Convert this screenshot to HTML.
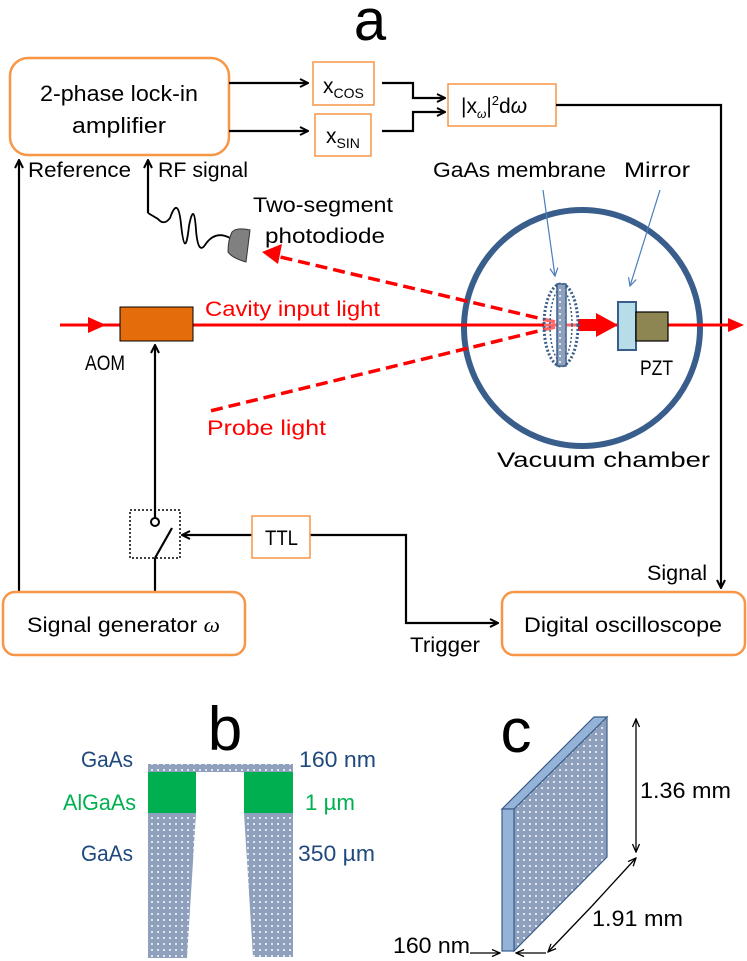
<!DOCTYPE html>
<html><head><meta charset="utf-8"><style>
html,body{margin:0;padding:0;background:#fff;}
svg{display:block;font-family:"Liberation Sans",sans-serif;}
</style></head><body>
<svg width="747" height="961" viewBox="0 0 747 961" xmlns="http://www.w3.org/2000/svg">
<defs>
<marker id="ab" markerWidth="10" markerHeight="10" refX="9" refY="5" orient="auto" markerUnits="userSpaceOnUse"><path d="M1,1 L9,5 L1,9" fill="none" stroke="#000" stroke-width="2"/></marker>
<marker id="at" markerWidth="10" markerHeight="10" refX="9" refY="5" orient="auto" markerUnits="userSpaceOnUse"><path d="M1,1.5 L9,5 L1,8.5" fill="none" stroke="#000" stroke-width="1.3"/></marker>
<marker id="abl" markerWidth="10" markerHeight="10" refX="9" refY="5" orient="auto" markerUnits="userSpaceOnUse"><path d="M1,1 L9,5 L1,9" fill="none" stroke="#4a7ebb" stroke-width="1.2"/></marker>
<pattern id="dots" width="6" height="6" patternUnits="userSpaceOnUse"><rect width="6" height="6" fill="#8ea0bb"/><rect x="1" y="1" width="2" height="2" fill="#dfe6f0"/></pattern>
</defs>

<text x="370" y="40" font-size="58" text-anchor="middle">a</text>

<!-- top boxes -->
<rect x="10" y="58" width="219" height="97" rx="18" fill="#fff" stroke="#f79646" stroke-width="2.5"/>
<g font-size="22" lengthAdjust="spacingAndGlyphs">
<text x="40" y="101" textLength="158" lengthAdjust="spacingAndGlyphs">2-phase lock-in</text>
<text x="72" y="133" textLength="94" lengthAdjust="spacingAndGlyphs">amplifier</text>
</g>
<rect x="313" y="62" width="61" height="43" fill="#fff" stroke="#f79646" stroke-width="1.5"/>
<text x="323" y="93" font-size="21">x<tspan font-size="14" dy="5">COS</tspan></text>
<rect x="315" y="114" width="56" height="42" fill="#fff" stroke="#f79646" stroke-width="1.5"/>
<text x="326" y="143" font-size="21">x<tspan font-size="14" dy="5">SIN</tspan></text>
<rect x="448" y="84" width="108" height="42" fill="#fff" stroke="#f79646" stroke-width="1.5"/>
<text x="461" y="113" font-size="21">|x<tspan font-size="12" dy="5" font-style="italic">ω</tspan><tspan dy="-5">|</tspan><tspan font-size="13" dy="-8">2</tspan><tspan dy="8">d</tspan><tspan font-style="italic">ω</tspan></text>

<g stroke="#000" stroke-width="2.2" fill="none">
<line x1="229" y1="83" x2="308" y2="83" marker-end="url(#ab)"/>
<line x1="229" y1="131" x2="308" y2="131" marker-end="url(#ab)"/>
<polyline points="382,83 413,83 413,98 445,98" marker-end="url(#ab)"/>
<polyline points="382,131 413,131 413,112 445,112" marker-end="url(#ab)"/>
<polyline points="556,105 721,105 721,588" marker-end="url(#ab)"/>
<line x1="19" y1="592" x2="19" y2="160" marker-end="url(#ab)"/>
<line x1="148" y1="213" x2="148" y2="160" marker-end="url(#ab)"/>
</g>
<path d="M148,213 L158,219 Q164,226 170,218 Q178,195 181,224 Q185,262 189,226 Q194,200 196,230 Q198,255 205,245 Q215,230 230,238" fill="none" stroke="#000" stroke-width="1.8"/>
<path d="M232,232 Q236,227 250,230 L246,262 Q232,258 228,252 Q228,240 232,232 Z" fill="#808080" stroke="#333" stroke-width="1"/>
<g font-size="21">
<text x="28" y="177" textLength="103" lengthAdjust="spacingAndGlyphs">Reference</text>
<text x="158" y="177" textLength="90" lengthAdjust="spacingAndGlyphs">RF signal</text>
<text x="253" y="212" textLength="140" lengthAdjust="spacingAndGlyphs">Two-segment</text>
<text x="265" y="243" textLength="120" lengthAdjust="spacingAndGlyphs">photodiode</text>
<text x="433" y="177" textLength="173" lengthAdjust="spacingAndGlyphs">GaAs membrane</text>
<text x="624" y="177" textLength="66" lengthAdjust="spacingAndGlyphs">Mirror</text>
</g>

<!-- chamber -->
<circle cx="582" cy="328" r="118" fill="none" stroke="#3a5e8c" stroke-width="6"/>
<text x="497" y="467" font-size="21" textLength="213" lengthAdjust="spacingAndGlyphs">Vacuum chamber</text>

<!-- beam -->
<line x1="60" y1="325" x2="735" y2="325" stroke="#ff0000" stroke-width="3"/>
<polygon points="88,317 106,325 88,333" fill="#ff0000"/>
<polygon points="728,318 744,325 728,332" fill="#ff0000"/>
<polygon points="578,319 596,319 596,313 618,325 596,337 596,331 578,331" fill="#ff0000"/>
<rect x="120" y="307" width="73" height="34" fill="#e46c0a" stroke="#000" stroke-width="1"/>
<text x="205" y="316" font-size="21" fill="#ff0000" textLength="175" lengthAdjust="spacingAndGlyphs">Cavity input light</text>
<text x="85" y="370" font-size="21" textLength="40" lengthAdjust="spacingAndGlyphs">AOM</text>
<line x1="555" y1="322" x2="272" y2="255" stroke="#ff0000" stroke-width="3.5" stroke-dasharray="12,6"/>
<polygon points="262,252 282,244 278,264" fill="#ff0000"/>
<line x1="555" y1="327" x2="210" y2="411" stroke="#ff0000" stroke-width="3.5" stroke-dasharray="12,6"/>
<text x="207" y="435" font-size="21" fill="#ff0000" textLength="119" lengthAdjust="spacingAndGlyphs">Probe  light</text>

<!-- membrane -->
<ellipse cx="561" cy="325" rx="17" ry="41" fill="#fff" fill-opacity="0.4" stroke="#3a5e8c" stroke-width="3" stroke-dasharray="2,2"/>
<ellipse cx="561" cy="325" rx="11" ry="36" fill="none" stroke="#3a5e8c" stroke-width="1.5" stroke-dasharray="2,2"/>
<rect x="557" y="284" width="9" height="82" fill="url(#dots)" stroke="#3a5e8c" stroke-width="1.5"/>
<rect x="618" y="302" width="18" height="48" fill="#b7dde8" stroke="#3a5e8c" stroke-width="2"/>
<rect x="636" y="312" width="32" height="29" fill="#8e8652" stroke="#000" stroke-width="1.2"/>
<text x="640" y="375" font-size="21" textLength="33" lengthAdjust="spacingAndGlyphs">PZT</text>
<line x1="543" y1="190" x2="555" y2="276" stroke="#4a7ebb" stroke-width="1.2" marker-end="url(#abl)"/>
<line x1="660" y1="190" x2="630" y2="286" stroke="#4a7ebb" stroke-width="1.2" marker-end="url(#abl)"/>

<!-- lower -->
<g stroke="#000" stroke-width="2.2" fill="none">
<line x1="155" y1="508" x2="155" y2="345" marker-end="url(#ab)"/>
<line x1="155" y1="508" x2="155" y2="518"/>
<line x1="155" y1="558" x2="172" y2="528"/>
<line x1="155" y1="558" x2="155" y2="592"/>
<line x1="252" y1="535" x2="182" y2="535" marker-end="url(#ab)"/>
<polyline points="310,535 406,535 406,623 498,623" marker-end="url(#ab)"/>
</g>
<circle cx="155" cy="522" r="4" fill="#fff" stroke="#000" stroke-width="2"/>
<rect x="130" y="510" width="50" height="48" fill="none" stroke="#000" stroke-width="1.5" stroke-dasharray="2,2"/>
<rect x="252" y="516" width="58" height="42" fill="#fff" stroke="#f79646" stroke-width="1.5"/>
<text x="265" y="545" font-size="21" textLength="33" lengthAdjust="spacingAndGlyphs">TTL</text>
<rect x="3" y="592" width="242" height="63" rx="12" fill="#fff" stroke="#f79646" stroke-width="2.5"/>
<text x="27" y="632" font-size="21" textLength="193" lengthAdjust="spacingAndGlyphs">Signal generator <tspan font-style="italic" font-family="Liberation Serif">ω</tspan></text>
<rect x="502" y="592" width="243" height="63" rx="12" fill="#fff" stroke="#f79646" stroke-width="2.5"/>
<text x="524" y="632" font-size="21" textLength="198" lengthAdjust="spacingAndGlyphs">Digital oscilloscope</text>
<text x="647" y="580" font-size="21" textLength="60" lengthAdjust="spacingAndGlyphs">Signal</text>
<text x="410" y="652" font-size="21" textLength="70" lengthAdjust="spacingAndGlyphs">Trigger</text>

<!-- b -->
<text x="225" y="750" font-size="62" text-anchor="middle">b</text>
<rect x="148" y="764" width="145" height="8" fill="url(#dots)"/>
<rect x="148" y="772" width="48" height="41" fill="#00b050"/>
<rect x="244" y="772" width="49" height="41" fill="#00b050"/>
<polygon points="148,813 196,813 187,958 148,958" fill="url(#dots)"/>
<polygon points="244,813 293,813 293,957 253,957" fill="url(#dots)"/>
<g font-size="22" fill="#1f497d">
<text x="81" y="767" textLength="52" lengthAdjust="spacingAndGlyphs">GaAs</text>
<text x="81" y="861" textLength="52" lengthAdjust="spacingAndGlyphs">GaAs</text>
<text x="299" y="767" textLength="77" lengthAdjust="spacingAndGlyphs">160 nm</text>
<text x="298" y="861" textLength="77" lengthAdjust="spacingAndGlyphs">350 µm</text>
</g>
<text x="63" y="810" font-size="22" fill="#00b050" textLength="73" lengthAdjust="spacingAndGlyphs">AlGaAs</text>
<text x="305" y="810" font-size="22" fill="#00b050" textLength="50" lengthAdjust="spacingAndGlyphs">1 µm</text>

<!-- c -->
<text x="516" y="752" font-size="62" text-anchor="middle">c</text>
<polygon points="514,809 607,717 607,857 514,951" fill="url(#dots)" stroke="#3a5e8c" stroke-width="1.2"/>
<polygon points="502,809 594,717 607,717 514,809" fill="#95b3d7" stroke="#3a5e8c" stroke-width="1.2"/>
<rect x="502" y="809" width="12" height="142" fill="#95b3d7" stroke="#3a5e8c" stroke-width="1.2"/>
<g stroke="#000" stroke-width="1.3" fill="none">
<line x1="636" y1="785" x2="636" y2="719" marker-end="url(#at)"/>
<line x1="636" y1="785" x2="636" y2="852" marker-end="url(#at)"/>
<line x1="592" y1="906" x2="548" y2="952" marker-end="url(#at)"/>
<line x1="592" y1="906" x2="636" y2="858" marker-end="url(#at)"/>
<polyline points="470,953 500,953" marker-end="url(#at)"/>
<line x1="546" y1="953" x2="516" y2="953" marker-end="url(#at)"/>
</g>
<g font-size="22">
<text x="640" y="798" textLength="91" lengthAdjust="spacingAndGlyphs">1.36 mm</text>
<text x="592" y="926" textLength="91" lengthAdjust="spacingAndGlyphs">1.91 mm</text>
<text x="393" y="953" textLength="77" lengthAdjust="spacingAndGlyphs">160 nm</text>
</g>
</svg>
</body></html>
